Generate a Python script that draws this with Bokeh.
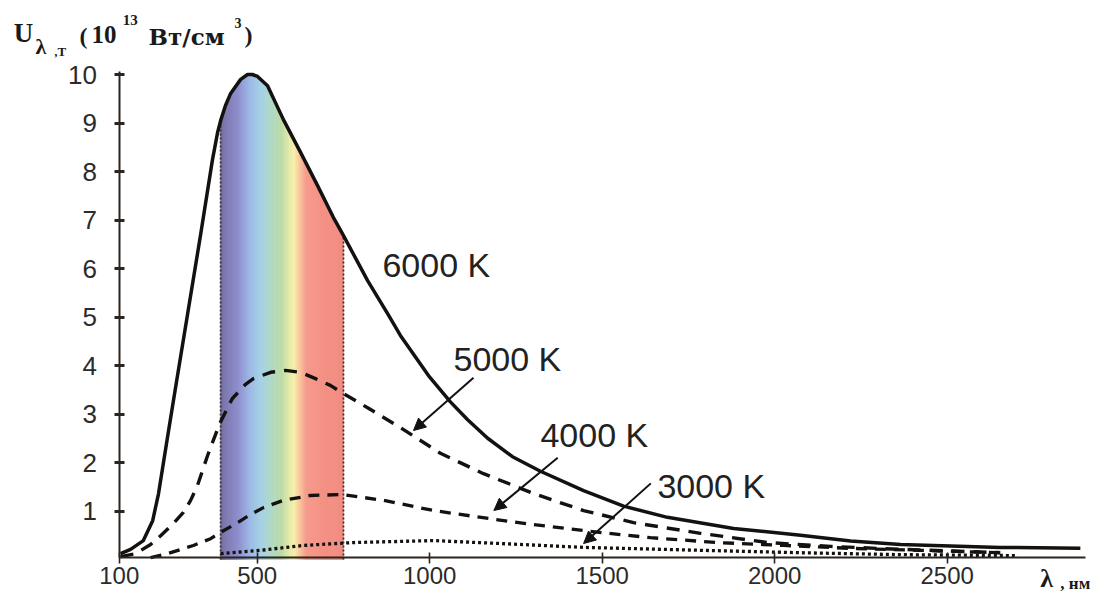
import numpy as np
from bokeh.plotting import figure
from bokeh.models import Range1d, FixedTicker, Label, Arrow, NormalHead
from bokeh.embed import file_html
from bokeh.resources import INLINE

# ---------------- data ----------------
lam_6000 = [104, 133, 170, 197, 214, 240, 263, 298, 336, 370, 385, 394, 408, 423, 452, 472, 486, 501, 530, 576,
            626, 675, 721, 747, 820, 878, 915, 1000, 1060, 1110, 1168, 1240, 1321, 1446, 1562, 1689, 1881, 2075,
            2220, 2365, 2654, 2886]
u_6000 = [0.12, 0.21, 0.39, 0.80, 1.36, 2.52, 3.53, 5.05, 6.70, 8.23, 8.80, 9.05, 9.36, 9.61, 9.90, 10.0, 10.0, 9.96, 9.77, 9.07,
          8.39, 7.71, 7.05, 6.72, 5.75, 5.07, 4.62, 3.76, 3.25, 2.88, 2.50, 2.12, 1.82, 1.42, 1.10, 0.87, 0.64, 0.50,
          0.38, 0.31, 0.25, 0.23]

lam_5000 = [104, 147, 191, 220, 254, 286, 307, 327, 356, 391, 428, 466, 489, 539, 582, 626, 669, 712, 750, 820,
            915, 1031, 1156, 1301, 1446, 1591, 1785, 1979, 2162, 2365, 2654]
u_5000 = [0.06, 0.12, 0.31, 0.49, 0.72, 0.97, 1.22, 1.53, 2.14, 2.80, 3.32, 3.61, 3.73, 3.86, 3.90, 3.86, 3.73, 3.59, 3.42, 3.13,
          2.72, 2.19, 1.77, 1.36, 1.01, 0.76, 0.54, 0.35, 0.27, 0.21, 0.14]

lam_4000 = [191, 240, 315, 365, 394, 443, 481, 518, 576, 654, 747, 866, 1011, 1176, 1301, 1466, 1640, 1834, 2026, 2220, 2423, 2654]
u_4000 = [0.04, 0.12, 0.29, 0.43, 0.56, 0.76, 0.93, 1.07, 1.22, 1.32, 1.34, 1.22, 1.01, 0.84, 0.72, 0.58, 0.45, 0.35, 0.29, 0.23, 0.19, 0.14]

lam_3000 = [394, 510, 634, 779, 1011, 1205, 1446, 1785, 2075, 2365, 2705]
u_3000 = [0.12, 0.19, 0.29, 0.35, 0.39, 0.33, 0.25, 0.19, 0.14, 0.10, 0.08]

visible_band = [394, 750]

x_ticks = [100, 500, 1000, 1500, 2000, 2500]
y_ticks = [1, 2, 3, 4, 5, 6, 7, 8, 9, 10]

curve_labels = ["6000 K", "5000 K", "4000 K", "3000 K"]
label_x = [863, 1069, 1321, 1660]
label_y = [6.07, 4.13, 2.56, 1.52]

arrow_x0 = [1127, 1371, 1641]
arrow_y0 = [3.75, 2.10, 1.57]
arrow_x1 = [953, 1186, 1446]
arrow_y1 = [2.66, 1.01, 0.33]

# spectrum colour stops (fraction across band, colour)
spec_stops = [(0.00, "#6e6b9c"), (0.06, "#7f7db5"), (0.15, "#9190cf"), (0.24, "#9bb8e6"),
              (0.33, "#a5d0e6"), (0.42, "#b0d8c4"), (0.50, "#bedca8"), (0.57, "#e8ecaa"),
              (0.60, "#f6f0a8"), (0.64, "#f9cca0"), (0.70, "#f5998a"), (1.00, "#f38a80")]

INK = "#141210"

# ---------------- figure (frame fills the canvas; axes are pinned inside) ----------------
p = figure(width=1096, height=600, x_range=Range1d(-244.1, 2932.8), y_range=Range1d(-0.845, 11.526),
           output_backend="svg", toolbar_location=None,
           min_border_left=0, min_border_right=0, min_border_top=0, min_border_bottom=0)
p.outline_line_color = None
p.xgrid.visible = False
p.ygrid.visible = False
p.background_fill_color = "white"
p.border_fill_color = "white"


def hex2rgb(h):
    h = h.lstrip("#")
    return np.array([int(h[i:i + 2], 16) for i in (0, 2, 4)], dtype=float)


def color_at(f):
    fs = [s[0] for s in spec_stops]
    cs = [hex2rgb(s[1]) for s in spec_stops]
    for i in range(len(fs) - 1):
        if fs[i] <= f <= fs[i + 1]:
            t = (f - fs[i]) / (fs[i + 1] - fs[i])
            c = cs[i] * (1 - t) + cs[i + 1] * t
            return "#%02x%02x%02x" % tuple(int(round(v)) for v in c)
    return spec_stops[-1][1]


# spectrum band under the 6000 K curve
n = 120
edges = np.linspace(visible_band[0], visible_band[1], n + 1)
tops = np.interp(edges, lam_6000, u_6000)
xs, ys, cols = [], [], []
for i in range(n):
    xs.append([edges[i], edges[i + 1], edges[i + 1], edges[i]])
    ys.append([0, 0, tops[i + 1], tops[i]])
    cols.append(color_at((i + 0.5) / n))
p.patches(xs, ys, fill_color=cols, line_color=cols, line_width=0.8)

# dotted band edges
edge_tops = np.interp(visible_band, lam_6000, u_6000)
p.segment(x0=visible_band, y0=[0, 0], x1=visible_band, y1=list(edge_tops),
          line_color="#4a2c2c", line_width=1.8, line_dash="2 2")

# curves
p.line(lam_3000, u_3000, line_color=INK, line_width=3.3, line_dash="3 3")
p.line(lam_4000, u_4000, line_color=INK, line_width=3.3, line_dash="11 8")
p.line(lam_5000, u_5000, line_color=INK, line_width=3.4, line_dash="13 9")
p.line(lam_6000, u_6000, line_color=INK, line_width=3.5, line_join="round")

# axes (pinned at the data origin)
p.xaxis.ticker = FixedTicker(ticks=x_ticks)
p.yaxis.ticker = FixedTicker(ticks=y_ticks)
p.xaxis.fixed_location = 0.04
p.yaxis.fixed_location = 102
p.xaxis.bounds = (102, 2900)
p.yaxis.bounds = (0.04, 10.07)
for ax in (p.xaxis[0], p.yaxis[0]):
    ax.axis_line_color = "#2a2520"
    ax.axis_line_width = 2
    ax.minor_tick_line_color = None
    ax.major_tick_line_color = "#2a2520"
    ax.major_label_text_font = "Liberation Sans"
    ax.major_label_text_color = "#2b2b2b"
p.yaxis.major_label_text_font_size = "26px"
p.xaxis.major_label_text_font_size = "24px"
p.yaxis.major_tick_in = 5
p.yaxis.major_tick_out = 5
p.yaxis.major_tick_line_width = 3
p.yaxis.major_label_standoff = 18
p.xaxis.major_tick_in = 5
p.xaxis.major_tick_out = 6
p.xaxis.major_tick_line_width = 1.6
p.xaxis.major_label_standoff = 3

# curve labels
for t, x, y in zip(curve_labels, label_x, label_y):
    p.add_layout(Label(x=x, y=y, text=t, text_font="Liberation Sans", text_font_size="34px",
                       text_color="#222222", text_baseline="middle"))

# arrows
for x0, y0, x1, y1 in zip(arrow_x0, arrow_y0, arrow_x1, arrow_y1):
    p.add_layout(Arrow(end=NormalHead(size=12, fill_color=INK, line_color=INK, line_width=1),
                       x_start=x0, y_start=y0, x_end=x1, y_end=y1,
                       line_color=INK, line_width=2))


# axis titles made of pieces (bold serif)
def piece(x, y, text, size, font="Liberation Serif"):
    p.add_layout(Label(x=x, y=y, text=text, text_font=font, text_font_style="bold",
                       text_font_size=size, text_color="#1a1a1a", text_baseline="middle"))


piece(-206, 10.86, "U", "27px")
piece(-143, 10.58, "λ", "22px")
piece(-88, 10.47, ",T", "13px")
piece(-15, 10.80, "(", "24px")
piece(20, 10.83, "10", "25px")
piece(110, 11.13, "13", "15px")
piece(185, 10.78, "Вт/см", "23px", "DejaVu Serif")
piece(434, 11.06, "3", "14px")
piece(463, 10.82, ")", "24px")

piece(2770, -0.39, "λ", "26px")
piece(2828, -0.49, ", нм", "17px")

open("out.html", "w").write(file_html(p, INLINE))
